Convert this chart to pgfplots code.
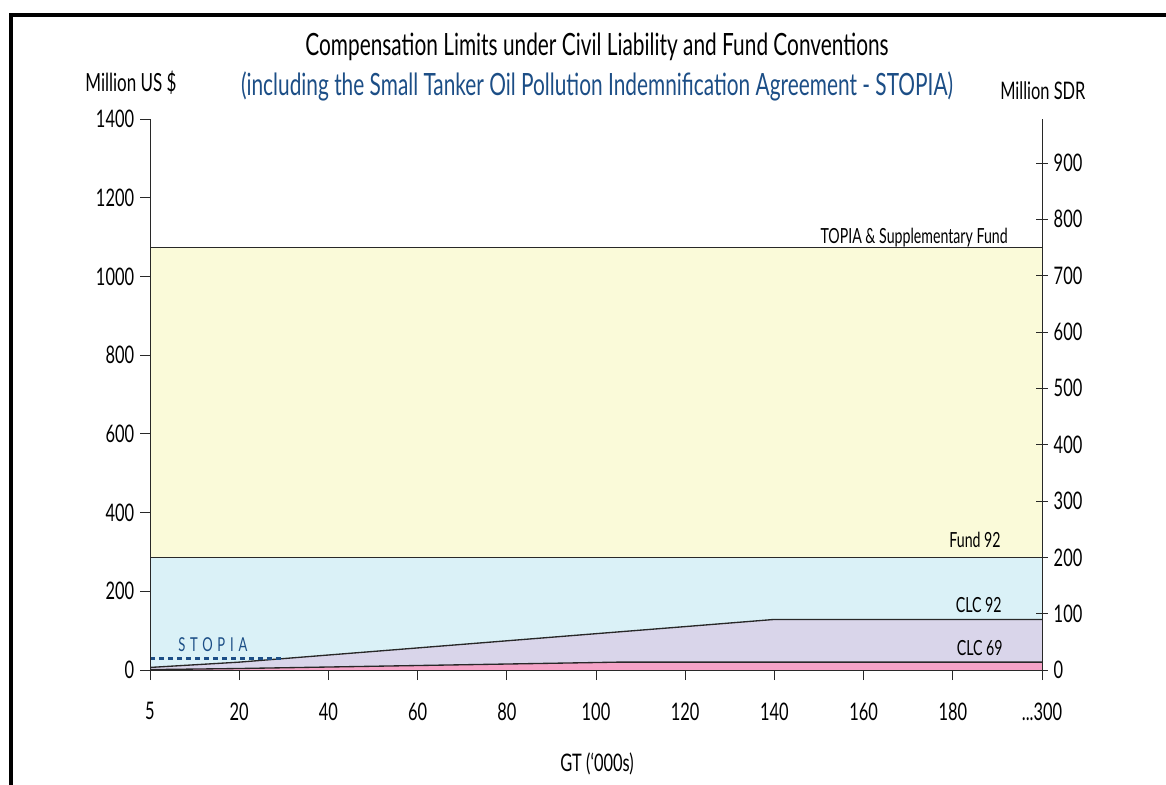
\documentclass[border=0pt]{standalone}
\usepackage{pgfplots}
\pgfplotsset{compat=1.18}
\usepackage{pgfplotstable}
\usepackage{fontspec}
\setmainfont{Lato}[FakeStretch=0.68]
\definecolor{cyellow}{RGB}{250,250,217}
\definecolor{ccyan}{RGB}{218,241,247}
\definecolor{clav}{RGB}{217,213,234}
\definecolor{cpink}{RGB}{245,163,199}
\definecolor{cblue}{RGB}{28,78,134}
\definecolor{cline}{RGB}{40,40,40}
\newcommand\lastlabel{.\kern0pt.\kern0pt.300}

% x positions: 0..10 = 5,20,40,...,180,...300 ('000 GT); values in million US $
\pgfplotstableread{
x y
0 6.5
1 20.0
2 38.1
3 56.1
4 74.2
5 92.3
6 110.3
7 128.5
10 128.5
}\clcninetytwo
\pgfplotstableread{
x y
0 1.0
1 3.8
2 7.6
3 11.4
4 15.2
5 19.0
5.25 20.0
10 20.0
}\clcsixtynine

\begin{document}
\begin{tikzpicture}
\useasboundingbox (0,0) rectangle (699.6pt,-471pt);
\draw[line width=2.4pt, black] (6.6pt,-471pt) -- (6.6pt,-9pt) -- (699.6pt,-9pt);

\begin{axis}[
  at={(90pt,-402pt)}, anchor=south west, scale only axis,
  width=535.2pt, height=330.6pt,
  xmin=0, xmax=10, ymin=0, ymax=1400,
  axis x line*=bottom, axis y line*=left,
  axis line style={-, cline, line width=0.6pt},
  axis on top,
  xtick={0,1,2,3,4,5,6,7,8,9,10},
  xticklabels={5,20,40,60,80,100,120,140,160,180,\lastlabel},
  ytick={0,200,400,600,800,1000,1200,1400},
  tick align=outside,
  major tick length=6pt,
  tick style={cline, line width=0.6pt},
  /pgf/number format/assume math mode=true,
  /pgf/number format/1000 sep={},
  tick label style={font=\fontsize{14.5}{14.5}\selectfont},
  xticklabel style={yshift=-10pt},
]
\addplot[fill=cyellow, draw=none] coordinates {(0,1073) (10,1073)} \closedcycle;
\addplot[fill=ccyan, draw=none] coordinates {(0,286) (10,286)} \closedcycle;
\addplot[fill=clav, draw=none] table[x=x,y=y] {\clcninetytwo} \closedcycle;
\addplot[fill=cpink, draw=none] table[x=x,y=y] {\clcsixtynine} \closedcycle;
\addplot[cline, line width=0.8pt] coordinates {(0,1073) (10,1073)};
\addplot[cline, line width=0.8pt] coordinates {(0,286) (10,286)};
\addplot[cline, line width=0.8pt] table[x=x,y=y] {\clcninetytwo};
\addplot[cline, line width=0.8pt] table[x=x,y=y] {\clcsixtynine};
\addplot[cblue, line width=1.8pt, dash pattern=on 3pt off 2.4pt] coordinates {(0,28.6) (1.48,28.6)};
\end{axis}

\begin{axis}[
  at={(90pt,-402pt)}, anchor=south west, scale only axis,
  width=535.2pt, height=330.6pt,
  xmin=0, xmax=10, ymin=0, ymax=978.1,
  axis x line=none, axis y line*=right,
  axis line style={-, cline, line width=0.6pt},
  ytick={0,100,200,300,400,500,600,700,800,900},
  tick align=center,
  major tick length=7pt,
  tick style={cline, line width=0.6pt},
  /pgf/number format/assume math mode=true,
  /pgf/number format/1000 sep={},
  tick label style={font=\fontsize{14.5}{14.5}\selectfont},
]
\end{axis}

\node[anchor=base, font=\fontsize{18.4}{18.4}\selectfont] at (358.2pt,-33pt)
  {Compensation Limits under Civil Liability and Fund Conventions};
\node[anchor=base, font=\fontsize{18.4}{18.4}\selectfont, text=cblue] at (358.2pt,-57pt)
  {(including the Small Tanker Oil Pollution Indemnification Agreement - STOPIA)};
\node[anchor=base west, inner sep=0pt, font=\fontsize{15}{15}\selectfont] at (51pt,-54.6pt) {Million US \$};
\node[anchor=base west, inner sep=0pt, font=\fontsize{14.5}{14.5}\selectfont] at (600pt,-59.4pt) {Million SDR};
\node[anchor=base, inner sep=0pt, font=\fontsize{14.5}{14.5}\selectfont] at (358.2pt,-462.6pt) {GT (‘000s)};

\node[anchor=base east, inner sep=0pt, font=\fontsize{12.5}{12.5}\selectfont] at (604.8pt,-145.8pt) {TOPIA \& Supplementary Fund};
\node[anchor=base east, inner sep=0pt, font=\fontsize{12.5}{12.5}\selectfont] at (600.6pt,-328.2pt) {Fund 92};
\node[anchor=base east, inner sep=0pt, font=\fontsize{12.5}{12.5}\selectfont] at (601.2pt,-367.2pt) {CLC 92};
\node[anchor=base east, inner sep=0pt, font=\fontsize{12.5}{12.5}\selectfont] at (601.8pt,-393pt) {CLC 69};
\node[anchor=base west, inner sep=0pt, text=cblue, font=\fontsize{11.5}{11.5}\selectfont\addfontfeature{LetterSpace=25}] at (106.8pt,-390.6pt) {STOPIA};
\end{tikzpicture}
\end{document}
